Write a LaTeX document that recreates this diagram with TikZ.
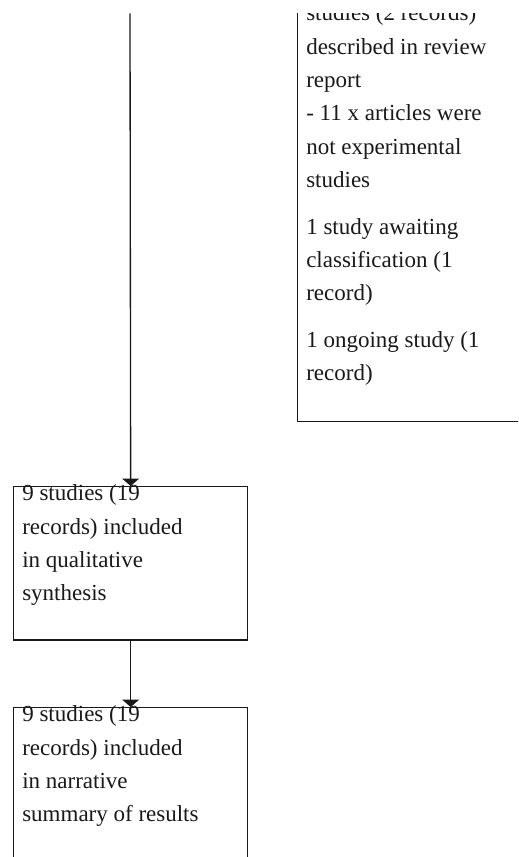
\documentclass[tikz,border=0pt]{standalone}
\usepackage{fontspec}
\setmainfont{Liberation Serif}
\usetikzlibrary{arrows.meta,positioning}

\begin{document}
\begin{tikzpicture}[
  x=0.75pt, y=0.75pt,
  font=\fontsize{17.25pt}{25pt}\selectfont,
  every node/.style={align=left},
  %% ─── styles ───
  box/.style={
    draw=black!90, line width=1pt, inner sep=0pt, anchor=north west,
    minimum width=175.5pt},
  boxtext/.style={anchor=base west, inner sep=0pt, text=black!90},
  flow/.style={-{Triangle[width=12.5pt, length=5.5pt]}, line width=1pt, draw=black!90}
]

  \useasboundingbox (0,0) rectangle (518,857);
  \clip (0,0) rectangle (518,843.5);

  %% ─── boxes ───
  \node[box, minimum width=182pt, minimum height=330.75pt] (excl) at (297,877) {};
  \node[box, minimum height=115pt] (synth) at (13,371) {};
  \node[box, minimum height=130pt] (summ) at (13,150) {};

  %% ─── box texts (base = last line) ───
  \node[boxtext] (excltxt) at ([shift={(9,-401)}]excl.north west)
    {studies (2 records)\\described in review\\report\\- 11 x articles were\\not experimental\\studies\\[10pt]1 study awaiting\\classification (1\\record)\\[10pt]1 ongoing study (1\\record)};
  \node[boxtext] (synthtxt) at ([shift={(9,-115)}]synth.north west)
    {9 studies (19\\records) included\\in qualitative\\synthesis};
  \node[boxtext] (summtxt) at ([shift={(9,-115)}]summ.north west)
    {9 studies (19\\records) included\\in narrative\\summary of results};

  %% ─── connectors ───
  \coordinate (from) at (130,843.5);
  \draw[flow] (from) -- (synth.north);
  \draw[flow] (synth.south) -- (summ.north);

\end{tikzpicture}
\end{document}
